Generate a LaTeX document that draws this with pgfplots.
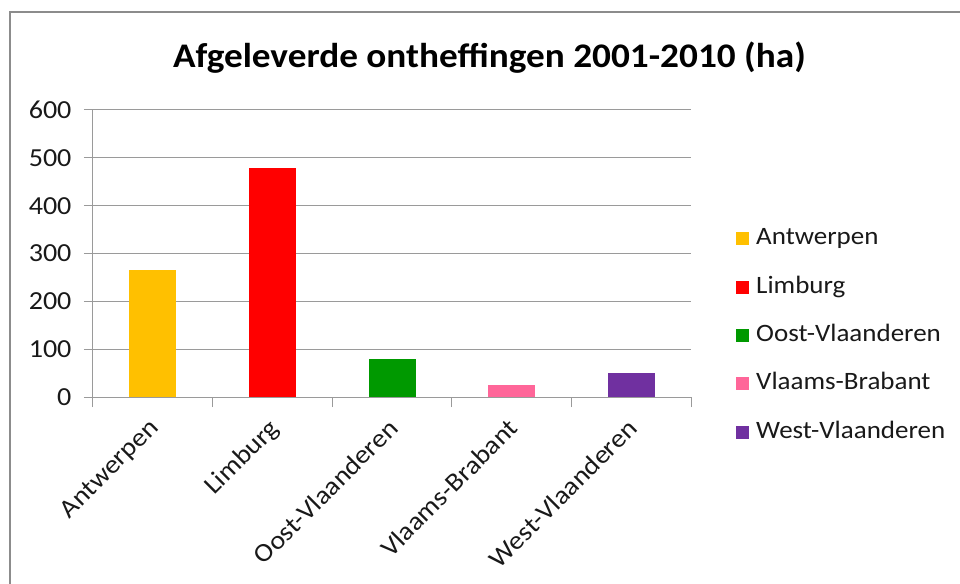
\documentclass[border=0pt]{standalone}
\usepackage{pgfplots}
\pgfplotsset{compat=1.18}
\usepackage{fontspec}
\setmainfont{Carlito}[FakeStretch=1.08]
\definecolor{cA}{HTML}{FFC000}
\definecolor{cL}{HTML}{FF0000}
\definecolor{cO}{HTML}{009900}
\definecolor{cV}{HTML}{FF6699}
\definecolor{cW}{HTML}{7030A0}
\definecolor{gridc}{HTML}{9A9A9A}
\definecolor{framec}{HTML}{8C8C8C}
\begin{document}
\begin{tikzpicture}
\useasboundingbox (-93pt,-186pt) rectangle (867pt,397pt);
\draw[framec, line width=1.5pt] (-83pt,-190pt) -- (-83pt,385pt) -- (870pt,385pt);
\begin{axis}[
  at={(0pt,0pt)}, anchor=south west,
  scale only axis,
  width=598pt, height=287pt,
  xmin=-0.5, xmax=4.5,
  ymin=0, ymax=600,
  ytick={0,100,...,600},
  xtick={0,1,2,3,4},
  xticklabels={Antwerpen,Limburg,Oost-Vlaanderen,Vlaams-Brabant,West-Vlaanderen},
  minor xtick={-0.5,0.5,1.5,2.5,3.5,4.5},
  major x tick style={draw=none},
  minor tick length=10pt,
  major tick length=9pt,
  tick align=outside,
  axis x line*=bottom,
  axis y line*=left,
  axis line style={gridc, line width=1pt},
  every tick/.style={gridc, line width=1pt},
  ymajorgrids,
  grid style={gridc, line width=1pt},
  /pgf/number format/assume math mode=true,
  tick label style={font=\fontsize{26}{30}\selectfont, text=black!90},
  yticklabel style={xshift=-9pt},
  xticklabel style={anchor=north east, inner sep=0pt, xshift=-5pt, yshift=-11pt, rotate=45},
  title={\bfseries Afgeleverde ontheffingen 2001-2010 (ha)},
  title style={font=\fontsize{34.5}{38}\selectfont, at={(0.663,1)}, anchor=base, yshift=36pt, inner sep=0pt},
  legend style={draw=none, at={(1.0702,0.214)}, anchor=west,
    font=\fontsize{25}{29}\selectfont,
    nodes={inner sep=0pt, text height=17pt, text depth=5pt, text=black!90},
    row sep=26.3pt},
  legend cell align=left,
  legend image code/.code={\fill[#1] (0pt,-6.5pt) rectangle (13pt,6.5pt);},
  every axis plot/.append style={ybar, bar width=47pt, bar shift=0pt, draw=none},
  clip=false,
]
\addplot[fill=cA] coordinates {(0,265)};
\addlegendentry{\hspace{7pt}Antwerpen}
\addplot[fill=cL] coordinates {(1,478)};
\addlegendentry{\hspace{7pt}Limburg}
\addplot[fill=cO] coordinates {(2,79)};
\addlegendentry{\hspace{7pt}Oost-Vlaanderen}
\addplot[fill=cV] coordinates {(3,25)};
\addlegendentry{\hspace{7pt}Vlaams-Brabant}
\addplot[fill=cW] coordinates {(4,50)};
\addlegendentry{\hspace{7pt}West-Vlaanderen}
\end{axis}
\end{tikzpicture}
\end{document}
